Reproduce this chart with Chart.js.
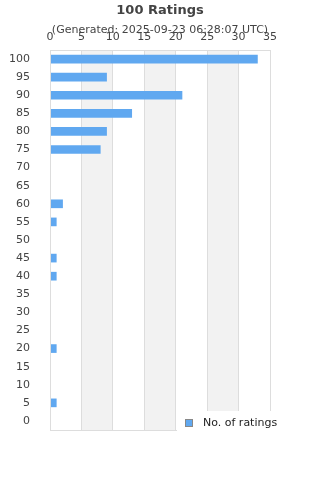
<!DOCTYPE html>
<html>
<head>
<meta charset="utf-8">
<script src="https://cdn.jsdelivr.net/npm/chart.js@4"></script>
<style>
  body { margin: 0; background: #fff; }
  #wrap { width: 320px; height: 480px; position: relative; }
</style>
</head>
<body>
<div id="wrap"><canvas id="ratings-bar-chart"></canvas></div>
<script>
const ratingLabels = ["100", "95", "90", "85", "80", "75", "70", "65", "60", "55", "50",
  "45", "40", "35", "30", "25", "20", "15", "10", "5", "0"];
const ratingCounts = [33, 9, 21, 13, 9, 8, 0, 0, 2, 1, 0, 1, 1, 0, 0, 0, 1, 0, 0, 1, 0];
const xTicks = [0, 5, 10, 15, 20, 25, 30, 35];

const barColor = '#60a8f0';
const fontFamily = "'DejaVu Sans', Verdana, sans-serif";

// grey bands behind the grid + frame around the plot
const bandPlugin = {
  id: 'bands',
  beforeDraw(chart) {
    const { ctx, chartArea, scales } = chart;
    ctx.save();
    ctx.fillStyle = '#f2f2f2';
    for (let i = 1; i < xTicks.length - 1; i += 2) {
      const x0 = scales.x.getPixelForValue(xTicks[i]);
      const x1 = scales.x.getPixelForValue(xTicks[i + 1]);
      ctx.fillRect(x0, chartArea.top, x1 - x0, chartArea.bottom - chartArea.top);
    }
    ctx.restore();
  },
  afterDraw(chart) {
    const { ctx, chartArea } = chart;
    ctx.save();
    ctx.strokeStyle = '#dddddd';
    ctx.lineWidth = 1;
    ctx.strokeRect(Math.round(chartArea.left) + 0.5, Math.round(chartArea.top) + 0.5,
      Math.round(chartArea.right - chartArea.left), Math.round(chartArea.bottom - chartArea.top));
    // legend box sits over the bottom right of the plot
    ctx.fillStyle = '#fff';
    ctx.fillRect(177, 411, 143, 35);
    ctx.fillStyle = barColor;
    ctx.fillRect(185, 419, 8, 8);
    ctx.strokeStyle = '#888';
    ctx.strokeRect(185.5, 419.5, 7, 7);
    ctx.fillStyle = '#222';
    ctx.font = '11px ' + fontFamily;
    ctx.textBaseline = 'middle';
    ctx.fillText(chart.data.datasets[0].label, 203, 423);
    ctx.restore();
  }
};

function initChart() {
  const ctx = document.getElementById('ratings-bar-chart');
  const data = {
    labels: ratingLabels,
    datasets: [{
      label: 'No. of ratings',
      data: ratingCounts,
      backgroundColor: barColor,
      borderWidth: 0,
      barThickness: 8
    }]
  };
  const config = {
    type: 'bar',
    data: data,
    plugins: [bandPlugin],
    options: {
      indexAxis: 'y',
      responsive: true,
      maintainAspectRatio: false,
      animation: false,
      layout: {
        padding: { left: 0, right: 0, top: 0, bottom: 50 }
      },
      plugins: {
        legend: { display: false },
        tooltip: { enabled: false },
        title: {
          display: true,
          text: '100 Ratings',
          color: '#444',
          font: { family: fontFamily, size: 13, weight: 'bold' },
          padding: { top: 3, bottom: 0 }
        },
        subtitle: {
          display: true,
          text: '(Generated: 2025-09-23 06:28:07 UTC)',
          color: '#444',
          font: { family: fontFamily, size: 11 },
          // negative bottom so the x tick labels can overlap it like the original
          padding: { top: 5, bottom: -14 }
        }
      },
      scales: {
        x: {
          position: 'top',
          min: 0,
          max: 35,
          afterFit(scale) { scale.height = 27.2; },
          border: { display: false },
          grid: { color: '#dddddd', drawTicks: false },
          ticks: {
            stepSize: 5,
            padding: 6,
            color: '#444',
            font: { family: fontFamily, size: 11 }
          }
        },
        y: {
          afterFit(scale) { scale.width = 50; },
          border: { display: false },
          grid: { display: false },
          ticks: {
            autoSkip: false,
            padding: 12,
            color: '#444',
            font: { family: fontFamily, size: 11 }
          }
        },
        // empty right gutter so titles stay centred on the canvas
        yRight: {
          axis: 'y',
          position: 'right',
          afterFit(scale) { scale.width = 50; },
          border: { display: false },
          grid: { display: false },
          ticks: { display: false }
        }
      }
    }
  };
  return new Chart(ctx, config);
}

const barChart = initChart();
</script>
</body>
</html>
